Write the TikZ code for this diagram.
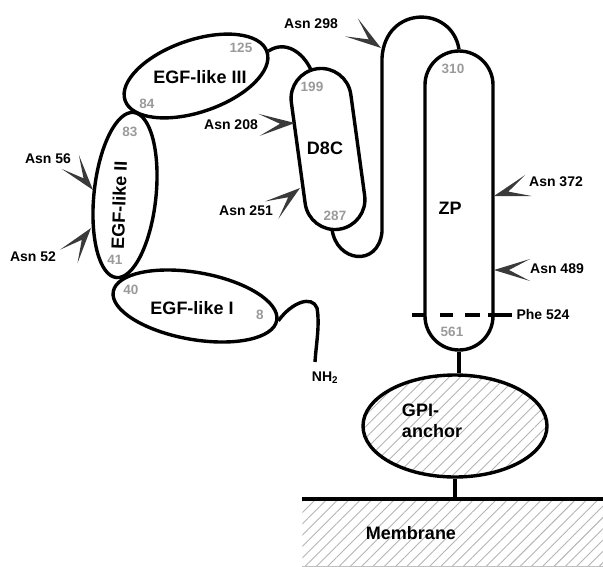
\documentclass[tikz,border=0pt]{standalone}
\usepackage{fontspec}
\setmainfont{Liberation Sans}
\usetikzlibrary{shapes.geometric,shapes.misc,patterns.meta}
\definecolor{numgray}{HTML}{9A9A9A}
\definecolor{chevgray}{HTML}{3A3A3A}
\definecolor{hatchgray}{HTML}{B4B4B4}
\tikzset{
 dom/.style={draw, line width=3.4pt, inner sep=0pt},
 oval/.style={dom, ellipse},
 stad/.style={dom, rounded rectangle},
 chain/.style={line width=3.4pt},
 lab/.style={font=\bfseries\fontsize{18}{21}\selectfont, inner sep=0pt},
 asn/.style={font=\bfseries\fontsize{14}{16}\selectfont, inner sep=0pt},
 num/.style={font=\bfseries\fontsize{13.5}{16}\selectfont, text=numgray, inner sep=0pt},
 glyco/.pic={\fill[chevgray] (0pt,0pt) -- (-36pt,11pt) -- (-15pt,0pt) -- (-36pt,-11pt) -- cycle;},
 hatch/.style={pattern={Lines[angle=45,distance=8pt,line width=0.9pt]}, pattern color=hatchgray},
}
\begin{document}
\begin{tikzpicture}[x=1pt,y=1pt]
\useasboundingbox (0,0) rectangle (603,-566);
% membrane
\node[hatch, minimum width=301pt, minimum height=67pt, inner sep=0pt, anchor=north west] (mem) at (302,-499) {};
\draw[gray!50, line width=1pt] (mem.south west) -- (mem.south east);
\draw[line width=3.4pt] (mem.north west) -- (mem.north east);
\node[lab] (memlab) at (411,-533) {Membrane};
% domains
\node[oval, minimum width=150pt, minimum height=72pt, rotate=19] (egf3) at (196,-76) {};
\node[oval, minimum width=62pt, minimum height=166pt, rotate=-6] (egf2) at (125,-195) {};
\node[oval, minimum width=166pt, minimum height=67pt, rotate=-10] (egf1) at (195,-306) {};
\node[stad, minimum width=162pt, minimum height=60pt, rotate=97.8] (d8c) at (328,-149) {};
\node[stad, minimum width=299pt, minimum height=68pt, rotate=90] (zp) at (459,-200.5) {};
\node[oval, hatch, minimum width=184pt, minimum height=102pt] (gpi) at (455,-426) {};
% connectors
\coordinate (d8ctop) at (311,-70);
\coordinate (d8cbot) at (332,-229);
\coordinate (nend) at (315,-362);
\draw[chain] (egf3.east) .. controls (285,-40) and (303,-52) .. (d8ctop);
\draw[chain] (d8cbot) .. controls (336,-262) and (378,-268) .. (382,-232) -- (382,-58)
   .. controls (385,-5) and (452,-5) .. (zp.east);
\draw[chain] (egf1.east) .. controls (292,-302) and (312,-295) .. (317,-308)
   .. controls (320,-325) and (316,-345) .. (nend);
\draw[chain] (zp.west) -- (zp.west |- gpi.north);
\draw[chain] (gpi.south) -- (gpi.south |- mem.north);
\draw[line width=4pt, dash pattern=on 13pt off 15pt on 13pt off 12pt on 15pt off 8pt on 24pt] (412,-315) -- (512,-315);
% labels
\node[lab] (t3) at (200,-77) {EGF-like III};
\node[lab, rotate=88] (t2) at (119,-205) {EGF-like II};
\node[lab] (t1) at (192,-308) {EGF-like I};
\node[lab] (td8c) at (325,-148) {D8C};
\node[lab] (tzp) at (450,-208) {ZP};
\node[lab, align=left] (tgpi) at (432,-420.5) {GPI-\\anchor};
\node[asn] (nh2) at (325,-378) {NH\textsubscript{2}};
\node[asn] (phe) at (543,-314) {Phe 524};
% residue numbers
\node[num] at (241,-48) {125};
\node[num] at (147,-104) {84};
\node[num] at (130,-132) {83};
\node[num] at (115,-260) {41};
\node[num] at (131,-290) {40};
\node[num] at (260,-315) {8};
\node[num] at (312,-87) {199};
\node[num] at (335,-216) {287};
\node[num] at (453,-69) {310};
\node[num] at (452,-332) {561};
% glycosylation sites
\pic[rotate=-51] (g56) at (93,-190) {glyco};
\pic[rotate=52] (g52) at (91,-228) {glyco};
\pic[rotate=3] (g208) at (295,-123) {glyco};
\pic[rotate=38] (g251) at (300,-188) {glyco};
\pic[rotate=-35] (g298) at (381,-48) {glyco};
\pic[rotate=-163] (g372) at (494,-196) {glyco};
\pic[rotate=180] (g489) at (494,-270) {glyco};
\node[asn] (a56) at (48,-159) {Asn 56};
\node[asn] (a52) at (33,-257) {Asn 52};
\node[asn] (a208) at (231,-125) {Asn 208};
\node[asn] (a251) at (246,-211) {Asn 251};
\node[asn] (a298) at (311,-24) {Asn 298};
\node[asn] (a372) at (556,-182) {Asn 372};
\node[asn] (a489) at (557,-269) {Asn 489};
\end{tikzpicture}
\end{document}
